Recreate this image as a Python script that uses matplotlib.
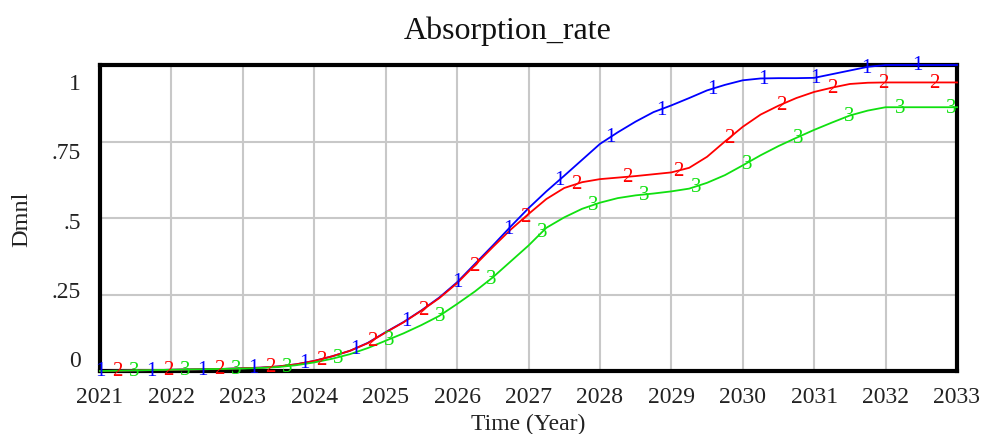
import numpy as np
import matplotlib
matplotlib.use("Agg")
import matplotlib.pyplot as plt

# ---------------- data ----------------
time = np.arange(2021.0, 2033.001, 0.25)

run1 = [0.000, 0.001, 0.002, 0.003, 0.004, 0.005, 0.006, 0.007, 0.009, 0.011,
        0.015, 0.022, 0.033, 0.048, 0.066, 0.092, 0.127, 0.160, 0.198, 0.240,
        0.290, 0.350, 0.410, 0.472, 0.532, 0.587, 0.638, 0.690, 0.742, 0.780,
        0.815, 0.846, 0.868, 0.892, 0.917, 0.935, 0.950, 0.956, 0.957, 0.957,
        0.958, 0.970, 0.982, 0.994, 1.000, 1.000, 1.000, 1.000, 1.000]

run2 = [0.000, 0.001, 0.002, 0.003, 0.004, 0.005, 0.006, 0.007, 0.009, 0.011,
        0.015, 0.022, 0.033, 0.048, 0.066, 0.091, 0.126, 0.159, 0.197, 0.238,
        0.287, 0.346, 0.405, 0.462, 0.513, 0.562, 0.598, 0.617, 0.627, 0.632,
        0.637, 0.643, 0.649, 0.664, 0.700, 0.750, 0.798, 0.838, 0.867, 0.892,
        0.912, 0.926, 0.938, 0.942, 0.943, 0.943, 0.943, 0.943, 0.943]

run3 = [0.000, 0.001, 0.002, 0.003, 0.004, 0.005, 0.006, 0.007, 0.008, 0.010,
        0.013, 0.019, 0.028, 0.040, 0.055, 0.075, 0.099, 0.123, 0.150, 0.180,
        0.219, 0.260, 0.306, 0.358, 0.410, 0.468, 0.502, 0.530, 0.550, 0.565,
        0.574, 0.580, 0.587, 0.596, 0.615, 0.640, 0.672, 0.705, 0.735, 0.762,
        0.788, 0.812, 0.835, 0.851, 0.862, 0.862, 0.862, 0.862, 0.862]

series = [("1", run1, "#0000ff"), ("2", run2, "#ff0000"), ("3", run3, "#10e010")]

x_ticks = list(range(2021, 2034))
x_labels = [str(y) for y in x_ticks]
y_grid = [0, 0.25, 0.5, 0.75, 1.0]
y_labels = ["0", ".25", ".5", ".75", "1"]

title = "Absorption_rate"
xlabel = "Time (Year)"
ylabel = "Dmnl"

# ---------------- figure ----------------
serif = ["Liberation Serif", "DejaVu Serif"]
fig = plt.figure(figsize=(9.84, 4.35), dpi=100)
ax = fig.add_axes([100 / 984, 63 / 435, 857 / 984, 306 / 435])

ax.set_xlim(2021, 2033)
ax.set_ylim(0, 1)

ax.set_xticks(x_ticks)
ax.set_xticklabels(x_labels, fontfamily=serif, fontsize=17)
ax.set_yticks(y_grid, minor=True)
# Vensim-style compressed label placement
label_pos = [0.042 + v * 0.906 for v in y_grid]
ax.set_yticks(label_pos)
ax.set_yticklabels(y_labels, fontfamily=serif, fontsize=17)
ax.tick_params(axis="both", which="both", length=0, colors="#222222")
ax.tick_params(axis="x", pad=11)
ax.tick_params(axis="y", pad=14)
ax.grid(True, axis="x", which="major", color="#c8c8c8", lw=1.5)
ax.grid(True, axis="y", which="minor", color="#c8c8c8", lw=1.5)
ax.grid(False, axis="y", which="major")
ax.set_axisbelow(True)

for sp in ax.spines.values():
    sp.set_linewidth(3)
    sp.set_color("black")

spacing = 0.715
for i, (lab, vals, col) in enumerate(series):
    ax.plot(time, vals, color=col, lw=1.3, zorder=3, clip_on=False)
    mt = np.arange(2021 + i * spacing / 3, 2033.0, spacing)
    mv = np.interp(mt, time, vals)
    for t, v in zip(mt, mv):
        ax.text(t, v, lab, color=col, fontsize=15, fontfamily=serif,
                ha="center", va="center", zorder=4, clip_on=False)

fig.text(508 / 984, 1 - 31 / 435, title, fontsize=23, fontfamily=serif,
         ha="center", va="center", color="#111111")
ax.set_xlabel(xlabel, fontsize=17, fontfamily=serif, labelpad=4, color="#222222")
ax.set_ylabel(ylabel, fontsize=17.5, fontfamily=serif, labelpad=14, color="#222222")

fig.savefig("out.png", dpi=100)
